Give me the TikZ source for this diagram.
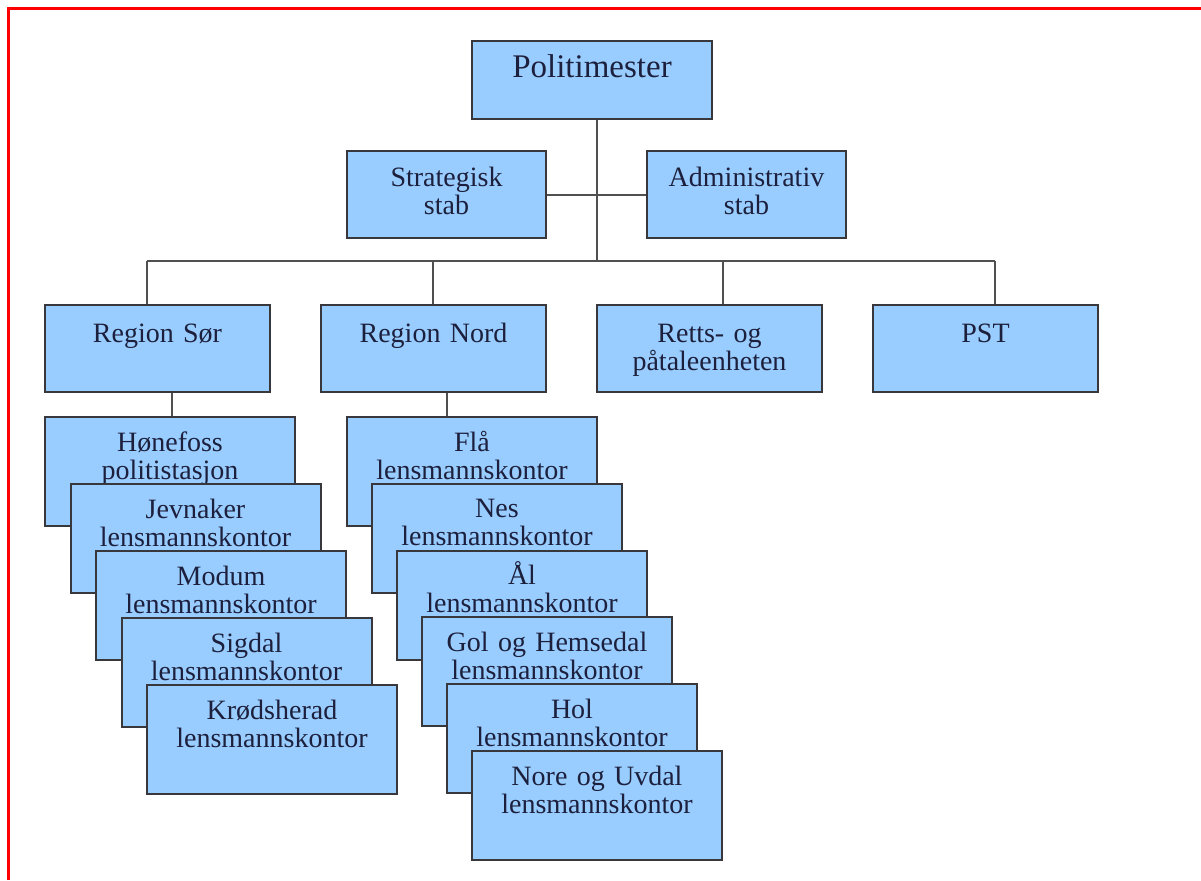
\documentclass[tikz,border=0pt]{standalone}
\usepackage{fontspec}
\setmainfont{Liberation Serif}
\usepackage{tikz}
\usetikzlibrary{positioning}
\definecolor{boxfill}{RGB}{153,204,255}
\definecolor{boxline}{RGB}{55,55,60}
\definecolor{boxtext}{RGB}{28,32,60}
\definecolor{linkgray}{RGB}{80,80,80}
\tikzset{
  org box/.style={
    draw=boxline,
    fill=boxfill,
    text=boxtext,
    line width=1pt,
    inner sep=0pt,
    align=center,
    font=\fontsize{14}{14}\selectfont,
  },
  chief box/.style={org box, text width=120pt, text height=18pt, text depth=21pt,
    font=\fontsize{16.5}{18}\selectfont},
  staff box/.style={org box, text width=99.5pt, text height=17.5pt, text depth=26pt},
  region box/.style={org box, text width=112.5pt, text height=18.5pt, text depth=25pt},
  office box/.style={org box, text width=125pt, text height=17pt, text depth=37.5pt},
  link/.style={draw=linkgray, line width=1pt},
}

\begin{document}
\begin{tikzpicture}[x=0.5pt, y=-0.5pt]
  \useasboundingbox (0,0) rectangle (1201,880);
  \draw[red, line width=1.3pt] (8.5,880) -- (8.5,8.5) -- (1201,8.5);

  \node [chief box, anchor=north west] (chief) at (471,40) {Politimester};
  \node [staff box, anchor=north west] (strat) at (346,150) {Strategisk\\stab};
  \node [staff box, right=49.5pt of strat] (adm) {Administrativ\\stab};

  \node [region box, anchor=north west] (rsor) at (44,304) {Region Sør};
  \node [region box, right=24.5pt of rsor] (rnord) {Region Nord};
  \node [region box, right=24.5pt of rnord] (retts) {Retts- og\\påtaleenheten};
  \node [region box, right=24.5pt of retts] (pst) {PST};

  % offices under each region
  \foreach \place/\kind [count=\i from 0] in {Hønefoss/politistasjon, Jevnaker/lensmannskontor,
      Modum/lensmannskontor, Sigdal/lensmannskontor, Krødsherad/lensmannskontor}
    \node [office box, anchor=north west] (sor\i) at (44+25.5*\i, 416+67*\i) {\place\\\kind};
  \foreach \place [count=\i from 0] in {Flå, Nes, Ål, Gol og Hemsedal, Hol, Nore og Uvdal}
    \node [office box, anchor=north west] (nord\i) at (346+25*\i, 416+66.8*\i) {\place\\lensmannskontor};

  % lines
  \coordinate (bus west) at (147,261);
  \coordinate (bus east) at (995,261);
  \draw [link] (chief.south -| 597,0) -- (597,261);
  \draw [link] (strat.east) -- (adm.west);
  \draw [link] (bus west) -- (bus east);
  \draw [link] (bus west) -- (bus west |- rsor.north);
  \draw [link] (433,261) -- (rnord.north -| 433,0);
  \draw [link] (723,261) -- (retts.north -| 723,0);
  \draw [link] (bus east) -- (bus east |- pst.north);
  \draw [link] (rsor.south -| 172,0) -- (sor0.north -| 172,0);
  \draw [link] (rnord.south -| 447,0) -- (nord0.north -| 447,0);
\end{tikzpicture}
\end{document}
